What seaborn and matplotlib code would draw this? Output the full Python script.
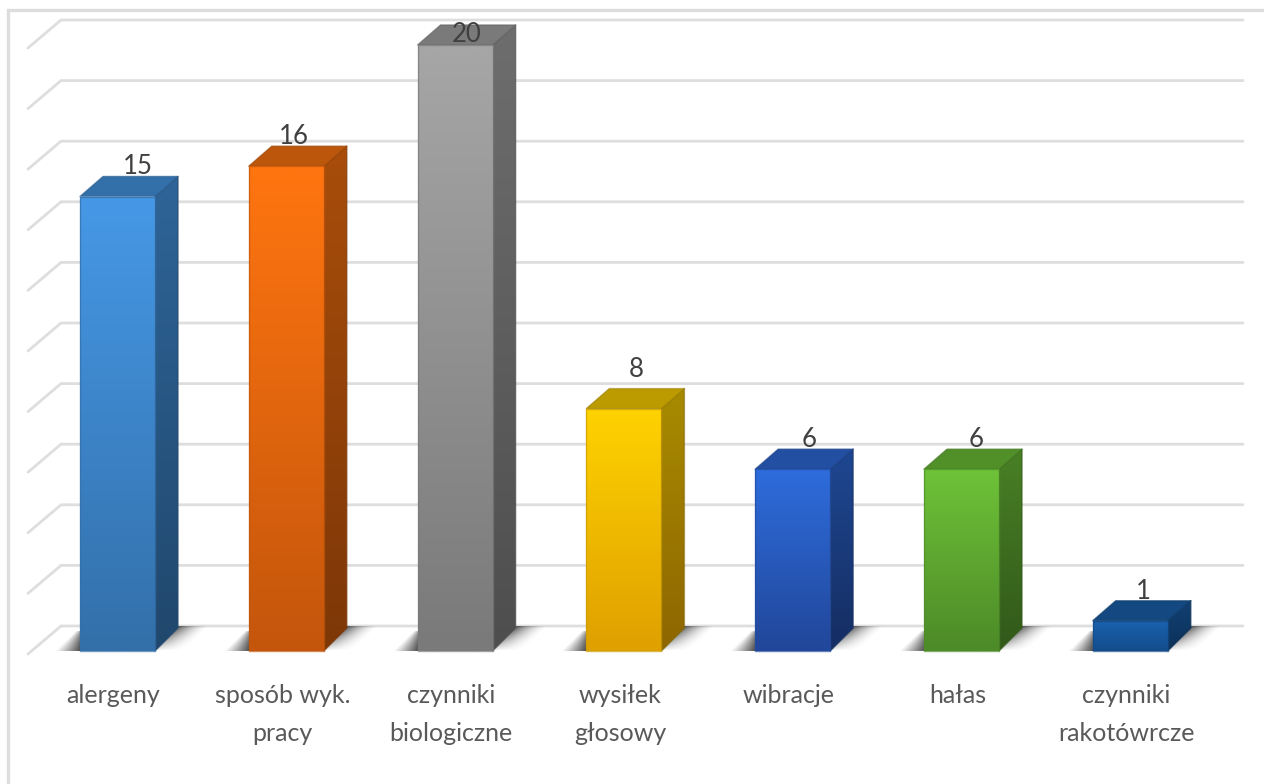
import numpy as np
import pandas as pd
import matplotlib.pyplot as plt
import seaborn as sns
from matplotlib.patches import Polygon, Rectangle
from matplotlib.colors import to_rgb
from matplotlib.transforms import ScaledTranslation

# dane z wykresu
czynniki = ['alergeny', 'sposób wyk.\npracy', 'czynniki\nbiologiczne', 'wysiłek\ngłosowy',
            'wibracje', 'hałas', 'czynniki\nrakotówrcze']
wartosci = [15, 16, 20, 8, 6, 6, 1]
siatka = [0, 2, 4, 6, 8, 10, 12, 14, 16, 18, 20]

kolory_gora = ['#4698E6', '#FF7510', '#A6A6A6', '#FFD200', '#2E6CDC', '#6EC238', '#1A62AE']
kolory_dol = ['#3370AA', '#C4560C', '#7A7A7A', '#DFA000', '#21479A', '#4D8A28', '#134C8C']

# skala w pikselach oryginalu
PX_X = 168.8
PX_Y = 30.3
X0, Y0 = 117.5, 651
W, H = 1264, 784
SZER = 75 / PX_X
# glebokosc slupka
DX = 23 / PX_X
DY_GORA = 20 / PX_Y
DY_DOL = 23 / PX_Y

sns.set_theme(style='white')
plt.rcParams['font.family'] = ['Lato', 'DejaVu Sans']

df = pd.DataFrame({'czynnik': czynniki, 'liczba': wartosci})

fig = plt.figure(figsize=(W / 100, H / 100), dpi=100)
ax = fig.add_axes([0, 0, 1, 1])
ax.patch.set_alpha(0)

sns.barplot(data=df, x='czynnik', y='liczba', hue='czynnik', palette=kolory_gora,
            width=SZER, legend=False, dodge=False, ax=ax, zorder=4)

xlim = (-X0 / PX_X, (W - X0) / PX_X)
ylim = ((Y0 - H) / PX_Y, Y0 / PX_Y)


def gradient(punkty, c1, c2, z):
    """poligon z pionowym gradientem"""
    pts = np.array(punkty)
    poly = Polygon(pts, closed=True, fc='none', ec='none', transform=ax.transData)
    ax.add_patch(poly)
    c1, c2 = np.array(to_rgb(c1)), np.array(to_rgb(c2))
    t = np.linspace(0, 1, 64)[:, None, None]
    img = (1 - t) * c1[None, None, :] + t * c2[None, None, :]
    im = ax.imshow(img, extent=(pts[:, 0].min(), pts[:, 0].max(), pts[:, 1].min(), pts[:, 1].max()),
                   origin='upper', aspect='auto', zorder=z, interpolation='bilinear')
    im.set_clip_path(poly)
    # zaokraglona krawedz
    ax.add_patch(Polygon(pts, closed=True, fc='none', ec=(c1 * 0.5 + c2 * 0.5) * 0.85, lw=1,
                         joinstyle='round', zorder=z, alpha=0.7))


def cien_prawy(x2):
    # cien za slupkiem, najciemniejszy przy dolnej krawedzi boku
    px, py = np.meshgrid(np.arange(0, 60), np.arange(0, 25))
    d = np.clip(px - py, 0, None)
    a = 0.6 * np.clip(1 - d / 30, 0, 1) ** 1.6 * np.clip(py / 24, 0, 1) ** 0.7
    img = np.zeros(a.shape + (4,))
    img[..., 3] = a
    ax.imshow(img, extent=(x2, x2 + 60 / PX_X, 0, 25 / PX_Y), origin='lower', aspect='auto',
              zorder=2, interpolation='bilinear')


def cien_lewy(x1):
    px, py = np.meshgrid(np.arange(0, 24), np.arange(0, 20))
    zasieg = 23 * np.clip(1 - py / 22, 0, 1) + 1
    a = 0.68 * np.clip(1 - px / zasieg, 0, 1) ** 1.1 * np.clip(1 - py / 20, 0, 1) ** 0.3
    img = np.zeros(a.shape + (4,))
    img[..., 3] = a[:, ::-1]
    ax.imshow(img, extent=(x1 - 24 / PX_X, x1, 0, 20 / PX_Y), origin='lower', aspect='auto',
              zorder=2, interpolation='bilinear')


# siatka: sciana boczna i tylna
xl = (28 - X0) / PX_X
xs = (61 - X0) / PX_X
xr = (1243 - X0) / PX_X
for v in siatka:
    ax.plot([xl, xs, xr], [v - 3 / PX_Y, v + 25 / PX_Y, v + 25 / PX_Y], color='#DEDEDE', lw=2,
            zorder=1, solid_joinstyle='miter')

bars = sorted(ax.patches, key=lambda p: p.get_x())
for b, v, c1, c2 in zip(bars, wartosci, kolory_gora, kolory_dol):
    x1, x2 = b.get_x(), b.get_x() + b.get_width()
    g1, g2 = np.array(to_rgb(c1)), np.array(to_rgb(c2))
    # bok i gora
    gradient([(x2, 0), (x2 + DX, DY_DOL), (x2 + DX, v + DY_GORA), (x2, v)], g1 * 0.66, g2 * 0.64, 3)
    gradient([(x1, v), (x1 + DX, v + DY_GORA), (x2 + DX, v + DY_GORA), (x2, v)], g1 * 0.74, g1 * 0.74, 3)
    # front
    gradient([(x1, 0), (x1, v), (x2, v), (x2, 0)], c1, c2, 4)
    b.set_visible(False)
    # cienie na podlodze
    cien_prawy(x2)
    cien_lewy(x1)

# etykiety wartosci, przesuniecia w px
przesuniecia = [(20, 30), (8, 30), (12, 11), (12, 39), (16, 30), (15, 30), (13, 29)]
for i, (v, (ox, oy)) in enumerate(zip(wartosci, przesuniecia)):
    ax.annotate(str(v), (i, v), xytext=(ox * 0.72, oy * 0.72), textcoords='offset points',
                ha='center', va='center', fontsize=18.5, color='#404040', zorder=6)

ax.set_xlim(xlim)
ax.set_ylim(ylim)
ax.set_xlabel('')
ax.set_ylabel('')
ax.set_yticks([])
ax.spines['bottom'].set_position(('data', 0))
for s in ['top', 'left', 'right', 'bottom']:
    ax.spines[s].set_visible(False)
ax.tick_params(axis='x', length=0, pad=24, labelsize=18, labelcolor='#595959')
przes = ScaledTranslation(-4 / 100, 0, fig.dpi_scale_trans)
for lab in ax.get_xticklabels():
    lab.set_linespacing(1.78)
    lab.set_transform(lab.get_transform() + przes)

# ramka wykresu
fig.add_artist(Rectangle((7.5 / W, -0.05), 1.1, 0.05 + (H - 9.5) / H, transform=fig.transFigure,
                         fc='none', ec='#DDDDDD', lw=2.4))

fig.savefig('out.png', dpi=100)
